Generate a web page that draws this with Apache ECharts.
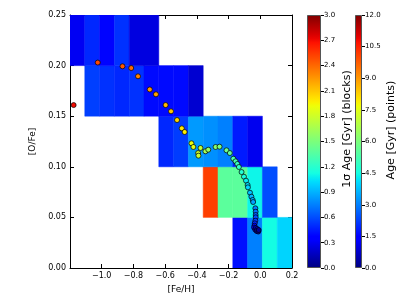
<!DOCTYPE html>
<html>
<head>
<meta charset="utf-8">
<script src="https://cdn.jsdelivr.net/npm/echarts@6/dist/echarts.min.js"></script>
<style>html,body{margin:0;padding:0;background:#fff}#c{width:399px;height:299px}</style>
</head>
<body>
<div id="c"></div>
<script>
// ---- data ----
const feEdges = [-1.2, -1.1067, -1.0133, -0.92, -0.8267, -0.7333, -0.64, -0.5467, -0.4533, -0.36, -0.2667, -0.1733, -0.08, 0.0133, 0.1067, 0.2];
const ofeEdges = [0.0, 0.05, 0.10, 0.15, 0.20, 0.25];
// 1-sigma age (Gyr) per block, one array per [O/Fe] row (bottom to top), null = empty
const sigmaRow0 = [null, null, null, null, null, null, null, null, null, null, null, 0.42, 0.75, 1.12, 1.0];
const sigmaRow1 = [null, null, null, null, null, null, null, null, null, 2.53, 1.38, 1.38, 1.1, 0.6, null];
const sigmaRow2 = [null, null, null, null, null, null, 0.49, 0.55, 0.83, 0.8, 0.75, 0.45, 0.29, null, null];
const sigmaRow3 = [null, 0.56, 0.52, 0.49, 0.52, 0.4, 0.4, 0.4, 0.21, null, null, null, null, null, null];
const sigmaRow4 = [0.3, 0.49, 0.38, 0.52, 0.25, 0.25, null, null, null, null, null, null, null, null, null];

const pointFe  = [-1.177, -1.025, -0.869, -0.814, -0.771, -0.697, -0.658, -0.597, -0.563, -0.525, -0.495, -0.477, -0.434, -0.422, -0.392, -0.39, -0.377, -0.346, -0.328, -0.282, -0.257, -0.213, -0.192, -0.170, -0.156, -0.145, -0.135, -0.118, -0.103, -0.090, -0.080, -0.078, -0.065, -0.056, -0.048, -0.045, -0.031, -0.029, -0.029, -0.029, -0.031, -0.035, -0.037, -0.039, -0.032, -0.029, -0.020, -0.023, -0.013, -0.010];
const pointOFe = [0.161, 0.203, 0.1993, 0.1976, 0.1894, 0.1764, 0.1716, 0.161, 0.1548, 0.1462, 0.138, 0.1344, 0.1232, 0.1196, 0.1136, 0.111, 0.1186, 0.1153, 0.1169, 0.1196, 0.1199, 0.1163, 0.1136, 0.108, 0.1054, 0.1028, 0.0998, 0.0948, 0.0902, 0.0863, 0.082, 0.0797, 0.0744, 0.0705, 0.0672, 0.0652, 0.059, 0.0556, 0.0524, 0.0501, 0.0467, 0.0442, 0.0418, 0.040, 0.0381, 0.0395, 0.0385, 0.0366, 0.036, 0.0375];
const pointAge = [10.8, 10.0, 9.8, 9.6, 9.3, 9.0, 8.9, 8.6, 8.4, 8.2, 8.0, 7.9, 7.6, 7.5, 7.2, 7.1, 7.0, 6.6, 6.4, 6.2, 6.0, 5.8, 5.6, 5.3, 5.2, 5.0, 4.9, 4.7, 4.5, 4.3, 4.1, 4.0, 3.8, 3.6, 3.5, 3.4, 3.0, 2.8, 2.6, 2.4, 2.2, 1.9, 1.6, 1.3, 1.1, 0.9, 0.7, 0.5, 0.3, 0.2];

const sigmaMax = 3.0, sigmaStep = 0.3;
const ageMax = 12.0, ageStep = 1.5;
const sigmaTitle = '1\u03c3 Age [Gyr] (blocks)';
const ageTitle = 'Age [Gyr] (points)';

// ---- jet colormap ----
function interp(pts, v) {
  for (let i = 1; i < pts.length; i++) {
    if (v <= pts[i][0]) {
      const t = (v - pts[i-1][0]) / (pts[i][0] - pts[i-1][0]);
      return pts[i-1][1] + t * (pts[i][1] - pts[i-1][1]);
    }
  }
  return pts[pts.length-1][1];
}
const R = [[0,0],[0.35,0],[0.66,1],[0.89,1],[1,0.5]];
const G = [[0,0],[0.125,0],[0.375,1],[0.64,1],[0.91,0],[1,0]];
const B = [[0,0.5],[0.11,1],[0.34,1],[0.65,0],[1,0]];
function jet(v) {
  const c = x => Math.round(255 * x);
  return 'rgb(' + c(interp(R, v)) + ',' + c(interp(G, v)) + ',' + c(interp(B, v)) + ')';
}
const jetColors = [], jetStops = [];
for (let i = 0; i <= 64; i++) { jetColors.push(jet(i / 64)); jetStops.push({offset: i / 64, color: jet(i / 64)}); }

// ---- build series data ----
const rows = [sigmaRow0, sigmaRow1, sigmaRow2, sigmaRow3, sigmaRow4];
const blocks = [];
rows.forEach((row, r) => row.forEach((s, c) => {
  if (s !== null) blocks.push([feEdges[c], feEdges[c+1], ofeEdges[r], ofeEdges[r+1], s]);
}));
const points = pointFe.map((f, i) => [f, pointOFe[i], pointAge[i]]);

const FONT = 'DejaVu Sans';
const near = (a, b) => Math.abs(a - b) < 1e-6;
const fmtX = v => near(v, -1.2) ? '' : (v < -1e-9 ? '\u2212' : '') + Math.abs(v).toFixed(1);

const chart = echarts.init(document.getElementById('c'), null, {renderer: 'canvas'});
chart.setOption({
  animation: false,
  backgroundColor: '#fff',
  textStyle: {fontFamily: FONT},
  grid: [
    {left: 70, right: 107, top: 15, bottom: 31},
    {left: 307, width: 14, top: 15, bottom: 31},
    {left: 355, width: 7, top: 15, bottom: 31}
  ],
  xAxis: [
    {type: 'value', gridIndex: 0, min: -1.2, max: 0.2, interval: 0.2, position: 'bottom',
     name: '[Fe/H]', nameLocation: 'middle', nameGap: 13, nameTextStyle: {fontSize: 9, color: '#000', fontFamily: FONT},
     axisLine: {show: true, onZero: false, lineStyle: {color: '#000', width: 1}},
     axisTick: {show: true, inside: true, length: 4, lineStyle: {color: '#000'}},
     axisLabel: {fontSize: 8, color: '#000', margin: 4, formatter: fmtX, fontFamily: FONT},
     splitLine: {show: false}},
    {type: 'value', gridIndex: 0, min: -1.2, max: 0.2, interval: 0.2, position: 'top',
     axisLine: {show: true, onZero: false, lineStyle: {color: '#000', width: 1}},
     axisTick: {show: true, inside: true, length: 4, lineStyle: {color: '#000'}},
     axisLabel: {show: false}, splitLine: {show: false}},
    {type: 'category', gridIndex: 1, data: ['c'], show: false},
    {type: 'category', gridIndex: 2, data: ['c'], show: false}
  ],
  yAxis: [
    {type: 'value', gridIndex: 0, min: 0, max: 0.25, interval: 0.05, position: 'left',
     name: '[O/Fe]', nameLocation: 'middle', nameGap: 24, nameTextStyle: {fontSize: 9, color: '#000', fontFamily: FONT},
     axisLine: {show: true, onZero: false, lineStyle: {color: '#000', width: 1}},
     axisTick: {show: true, inside: true, length: 4, lineStyle: {color: '#000'}},
     axisLabel: {fontSize: 8, color: '#000', margin: 4, formatter: v => v.toFixed(2), fontFamily: FONT},
     splitLine: {show: false}},
    {type: 'value', gridIndex: 0, min: 0, max: 0.25, interval: 0.05, position: 'right',
     axisLine: {show: true, onZero: false, lineStyle: {color: '#000', width: 1}},
     axisTick: {show: true, inside: true, length: 4, lineStyle: {color: '#000'}},
     axisLabel: {show: false}, splitLine: {show: false}},
    {type: 'value', gridIndex: 1, min: 0, max: sigmaMax, interval: sigmaStep, position: 'right',
     axisLine: {show: false},
     axisTick: {show: true, inside: false, length: 3, lineStyle: {color: '#000'}},
     axisLabel: {fontSize: 7, color: '#000', margin: 3, formatter: v => v.toFixed(1), fontFamily: FONT},
     splitLine: {show: false}},
    {type: 'value', gridIndex: 2, min: 0, max: ageMax, interval: ageStep, position: 'right',
     axisLine: {show: false},
     axisTick: {show: true, inside: false, length: 3, lineStyle: {color: '#000'}},
     axisLabel: {fontSize: 7, color: '#000', margin: 3, formatter: v => v.toFixed(1), fontFamily: FONT},
     splitLine: {show: false}}
  ],
  graphic: [
    {type: 'text', x: 347, y: 129, rotation: Math.PI / 2, silent: true,
     style: {text: sigmaTitle, fontSize: 11, fontFamily: FONT, fill: '#000', align: 'center', verticalAlign: 'middle'}},
    {type: 'text', x: 391, y: 130, rotation: Math.PI / 2, silent: true,
     style: {text: ageTitle, fontSize: 11, fontFamily: FONT, fill: '#000', align: 'center', verticalAlign: 'middle'}}
  ],
  visualMap: [
    {type: 'continuous', show: false, seriesIndex: 0, dimension: 4, min: 0, max: sigmaMax, inRange: {color: jetColors}},
    {type: 'continuous', show: false, seriesIndex: 1, dimension: 2, min: 0, max: ageMax, inRange: {color: jetColors}}
  ],
  series: [
    {type: 'custom', xAxisIndex: 0, yAxisIndex: 0, data: blocks, encode: {x: [0, 1], y: [2, 3]}, clip: true, z: 2,
     renderItem: function (params, api) {
       const p0 = api.coord([api.value(0), api.value(3)]);
       const p1 = api.coord([api.value(1), api.value(2)]);
       const col = api.visual('color');
       return {type: 'rect', shape: {x: p0[0], y: p0[1], width: p1[0] - p0[0], height: p1[1] - p0[1]},
               style: {fill: col, stroke: col, lineWidth: 0.5}};
     }},
    {type: 'scatter', xAxisIndex: 0, yAxisIndex: 0, data: points, symbol: 'circle', symbolSize: 5, z: 5,
     itemStyle: {borderColor: '#000', borderWidth: 0.7, opacity: 1}},
    {type: 'bar', xAxisIndex: 2, yAxisIndex: 2, data: [sigmaMax], barWidth: '100%', silent: true,
     itemStyle: {color: {type: 'linear', x: 0, y: 1, x2: 0, y2: 0, colorStops: jetStops}, borderColor: '#555', borderWidth: 1}},
    {type: 'bar', xAxisIndex: 3, yAxisIndex: 3, data: [ageMax], barWidth: '100%', silent: true,
     itemStyle: {color: {type: 'linear', x: 0, y: 1, x2: 0, y2: 0, colorStops: jetStops}, borderColor: '#555', borderWidth: 1}}
  ]
});
</script>
</body>
</html>
